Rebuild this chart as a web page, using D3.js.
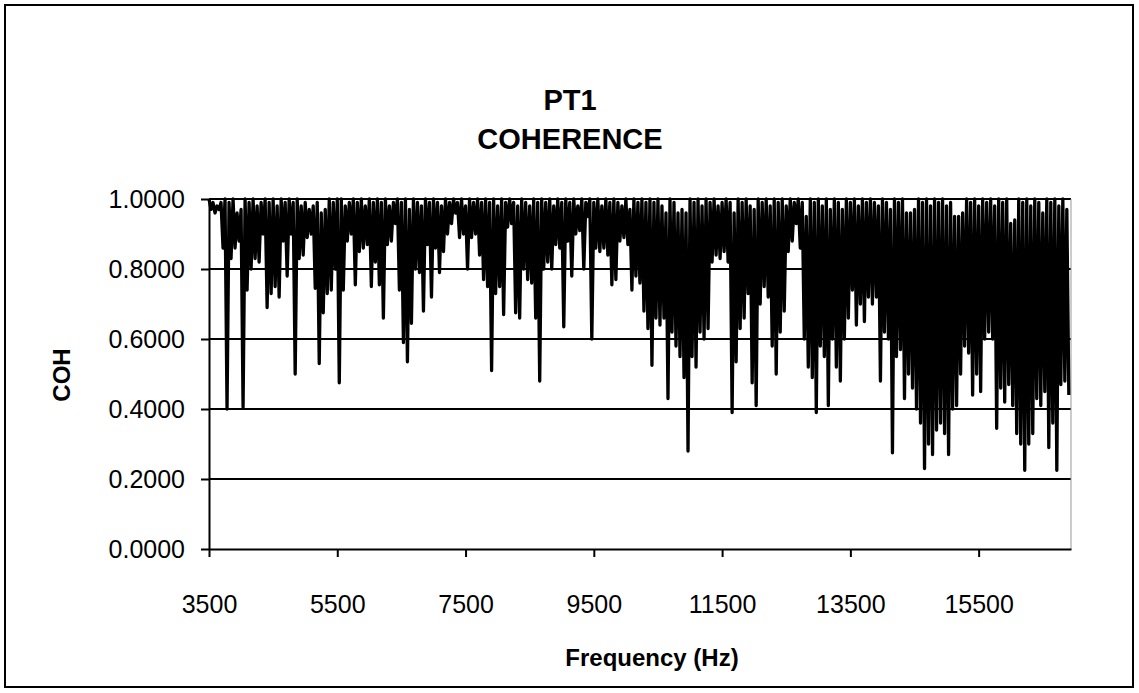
<!DOCTYPE html>
<html>
<head>
<meta charset="utf-8">
<script src="https://cdn.jsdelivr.net/npm/d3@7"></script>
<style>
    body { margin: 0; background: #fff; }
    text { font-family: "Liberation Sans", Arial, sans-serif; }
</style>
</head>
<body>
<svg id="drawing_region"></svg>
<script>
// frequency bins: one peak and one dip per 62.5 Hz step, starting at 3500 Hz
const freqStart = 3500;
const freqStep = 62.5;

// upper values of the coherence trace (one per step)
const peaks = [
    1.00, 0.99, 0.98, 0.99, 1.00, 0.99, 1.00, 0.96, 0.97, 1.00,
    0.99, 1.00, 0.98, 0.99, 1.00, 0.99, 1.00, 0.98, 1.00, 0.99,
    1.00, 0.99, 1.00, 0.98, 0.99, 0.97, 0.98, 0.99, 0.96, 0.97,
    1.00, 0.99, 1.00, 1.00, 0.98, 0.99, 1.00, 0.99, 1.00, 0.98,
    1.00, 0.99, 1.00, 0.99, 1.00, 0.98, 0.99, 1.00, 0.99, 1.00,
    0.97, 1.00, 0.99, 0.98, 1.00, 0.99, 1.00, 0.99, 0.98, 1.00,
    0.99, 1.00, 0.99, 1.00, 0.98, 1.00, 0.99, 1.00, 0.99, 1.00,
    0.99, 1.00, 0.98, 1.00, 0.99, 1.00, 0.99, 0.98, 1.00, 0.99,
    0.98, 1.00, 0.99, 1.00, 0.99, 1.00, 0.98, 1.00, 0.99, 1.00,
    0.99, 1.00, 0.98, 1.00, 0.99, 1.00, 0.99, 1.00, 0.98, 1.00,
    0.99, 1.00, 0.99, 0.98, 1.00, 0.97, 1.00, 0.99, 1.00, 0.99,
    1.00, 0.99, 1.00, 0.98, 0.96, 1.00, 0.99, 0.96, 0.97, 0.96,
    1.00, 0.99, 1.00, 0.98, 1.00, 0.99, 1.00, 0.98, 0.99, 1.00,
    0.99, 0.96, 1.00, 0.99, 1.00, 0.98, 0.97, 1.00, 0.99, 1.00,
    0.98, 1.00, 0.99, 1.00, 0.98, 1.00, 0.99, 1.00, 0.99, 0.95,
    1.00, 0.99, 1.00, 0.98, 1.00, 0.97, 1.00, 0.99, 0.97, 1.00,
    0.99, 1.00, 0.98, 1.00, 0.99, 1.00, 0.99, 0.98, 1.00, 0.99,
    0.97, 1.00, 0.99, 1.00, 0.96, 0.96, 0.97, 1.00, 0.99, 1.00,
    0.98, 1.00, 0.99, 1.00, 0.98, 0.99, 0.95, 0.95, 0.96, 1.00,
    0.99, 1.00, 0.98, 1.00, 0.99, 1.00, 0.98, 1.00, 0.99, 1.00,
    0.93, 0.94, 1.00, 0.99, 1.00, 0.98, 1.00, 0.99, 0.96, 1.00,
    0.99, 1.00, 0.98, 1.00, 0.97
];

// lower values of the coherence trace (half a step after each peak)
const dips = [
    0.97, 0.96, 0.97, 0.86, 0.40, 0.83, 0.86, 0.88, 0.405, 0.74,
    0.80, 0.83, 0.82, 0.90, 0.69, 0.73, 0.75, 0.72, 0.88, 0.78,
    0.90, 0.50, 0.83, 0.84, 0.89, 0.90, 0.745, 0.53, 0.675, 0.73,
    0.74, 0.80, 0.475, 0.74, 0.88, 0.90, 0.755, 0.85, 0.86, 0.87,
    0.75, 0.82, 0.755, 0.66, 0.87, 0.88, 0.93, 0.74, 0.59, 0.535,
    0.645, 0.80, 0.79, 0.68, 0.87, 0.72, 0.86, 0.79, 0.85, 0.90,
    0.93, 0.96, 0.89, 0.90, 0.80, 0.89, 0.90, 0.84, 0.77, 0.75,
    0.51, 0.73, 0.75, 0.67, 0.92, 0.93, 0.675, 0.66, 0.80, 0.77,
    0.76, 0.66, 0.48, 0.80, 0.82, 0.80, 0.87, 0.86, 0.635, 0.88,
    0.78, 0.90, 0.91, 0.80, 0.95, 0.60, 0.86, 0.85, 0.86, 0.84,
    0.755, 0.77, 0.88, 0.89, 0.87, 0.74, 0.78, 0.76, 0.68, 0.63,
    0.525, 0.66, 0.64, 0.66, 0.43, 0.62, 0.58, 0.55, 0.49, 0.28,
    0.55, 0.52, 0.62, 0.60, 0.63, 0.82, 0.84, 0.83, 0.85, 0.82,
    0.39, 0.535, 0.63, 0.66, 0.73, 0.475, 0.41, 0.70, 0.75, 0.72,
    0.58, 0.50, 0.62, 0.68, 0.85, 0.88, 0.93, 0.86, 0.60, 0.52,
    0.49, 0.39, 0.58, 0.55, 0.41, 0.60, 0.52, 0.48, 0.60, 0.66,
    0.74, 0.64, 0.70, 0.65, 0.72, 0.70, 0.72, 0.48, 0.62, 0.60,
    0.275, 0.55, 0.57, 0.43, 0.50, 0.46, 0.40, 0.36, 0.23, 0.30,
    0.27, 0.34, 0.36, 0.33, 0.27, 0.40, 0.41, 0.50, 0.58, 0.56,
    0.44, 0.50, 0.45, 0.60, 0.62, 0.60, 0.345, 0.46, 0.42, 0.47,
    0.41, 0.33, 0.30, 0.225, 0.30, 0.33, 0.43, 0.41, 0.45, 0.29,
    0.36, 0.225, 0.47, 0.48, 0.44
];

const freqTicks = [3500, 5500, 7500, 9500, 11500, 13500, 15500];
const cohTicks = [0, 0.2, 0.4, 0.6, 0.8, 1.0];
const titleLines = ["PT1", "COHERENCE"];

var config = {
    parent: '#drawing_region',
    width: 1139,
    height: 693,
    margin: {top:199, right:68, bottom:144, left:209}
};

class CoherenceChart{

    constructor( config ){
        this.config = config;
        this.data = [];
        peaks.forEach( (p, i) => {
            this.data.push({ f: freqStart + freqStep*i, v: p });
            this.data.push({ f: freqStart + freqStep*i + freqStep/2, v: dips[i] });
        });
        this.init();
    }

    init(){
        let self = this;

        self.svg = d3.select(self.config.parent)
            .attr('width', self.config.width)
            .attr('height', self.config.height);

        self.inner_width = self.config.width - self.config.margin.left - self.config.margin.right;
        self.inner_height = self.config.height - self.config.margin.top - self.config.margin.bottom;

        self.xscale = d3.scaleLinear()
            .domain([3500, 16940])
            .range([0, self.inner_width]);

        self.yscale = d3.scaleLinear()
            .domain([0, 1])
            .range([self.inner_height, 0]);

        self.chart = self.svg.append('g')
            .attr('transform', `translate(${self.config.margin.left}, ${self.config.margin.top})`);
    }

    render(){
        let self = this;

        // outer frame
        self.svg.append('rect')
            .attr('x', 5).attr('y', 5)
            .attr('width', self.config.width - 11)
            .attr('height', self.config.height - 11)
            .attr('fill', 'none')
            .attr('stroke', 'black')
            .attr('stroke-width', 2);

        self.svg.selectAll('.title')
            .data(titleLines)
            .join('text')
            .attr('class', 'title')
            .attr('x', 570)
            .attr('y', (d, i) => 110 + i*39)
            .attr('text-anchor', 'middle')
            .attr('font-size', '29px')
            .attr('font-weight', 'bold')
            .text(d => d);

        // horizontal grid lines
        self.chart.selectAll('.grid')
            .data(cohTicks.filter(d => d > 0))
            .join('line')
            .attr('x1', 0)
            .attr('x2', self.inner_width)
            .attr('y1', d => self.yscale(d))
            .attr('y2', d => self.yscale(d))
            .attr('stroke', 'black')
            .attr('stroke-width', 2);

        // right edge of plot area
        self.chart.append('line')
            .attr('x1', self.inner_width).attr('x2', self.inner_width)
            .attr('y1', 0).attr('y2', self.inner_height)
            .attr('stroke', '#999')
            .attr('stroke-width', 1);

        const line = d3.line()
            .x( d => self.xscale(d.f) )
            .y( d => self.yscale(d.v) );

        self.chart.append('path')
            .attr('d', line(self.data))
            .attr('fill', 'none')
            .attr('stroke', 'black')
            .attr('stroke-width', 3.3)
            .attr('stroke-linejoin', 'round');

        const xaxis = d3.axisBottom(self.xscale)
            .tickValues(freqTicks)
            .tickFormat(d3.format('d'))
            .tickSize(8)
            .tickPadding(38)
            .tickSizeOuter(0);

        const yaxis = d3.axisLeft(self.yscale)
            .tickValues(cohTicks)
            .tickFormat(d3.format('.4f'))
            .tickSize(8)
            .tickPadding(16)
            .tickSizeOuter(0);

        const xg = self.chart.append('g')
            .attr('transform', `translate(0, ${self.inner_height})`)
            .call(xaxis);
        const yg = self.chart.append('g')
            .call(yaxis);

        [xg, yg].forEach( g => {
            g.select('.domain').attr('stroke', 'black').attr('stroke-width', 2);
            g.selectAll('.tick line').attr('stroke', 'black').attr('stroke-width', 2);
            g.selectAll('.tick text')
                .attr('font-size', '25px')
                .attr('font-family', '"Liberation Sans", Arial, sans-serif')
                .attr('fill', 'black');
        });

        self.svg.append('text')
            .attr('x', 652)
            .attr('y', 666)
            .attr('text-anchor', 'middle')
            .attr('font-size', '24px')
            .attr('font-weight', 'bold')
            .text('Frequency (Hz)');

        self.svg.append('text')
            .attr('transform', 'translate(70, 375) rotate(-90)')
            .attr('text-anchor', 'middle')
            .attr('font-size', '24px')
            .attr('font-weight', 'bold')
            .text('COH');
    }
}

const chart = new CoherenceChart(config);
chart.render();
</script>
</body>
</html>
